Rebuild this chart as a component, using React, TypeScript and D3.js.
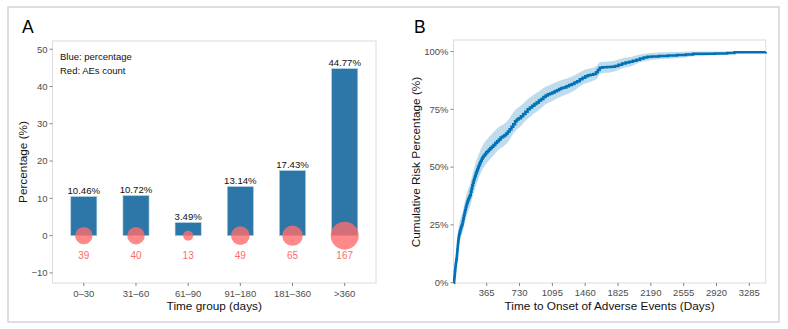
import React from 'react';
import * as d3 from 'd3';

// Panel A: time-group distribution
const groups = ['0–30', '31–60', '61–90', '91–180', '181–360', '>360'];
const percentages = [10.46, 10.72, 3.49, 13.14, 17.43, 44.77];
const aeCounts = [39, 40, 13, 49, 65, 167];
const yTicksA = [-10, 0, 10, 20, 30, 40, 50];

// Panel B: cumulative incidence step curve (days, %)
const days = [0, 3, 6, 9, 12, 15, 18, 21, 24, 27, 30, 33, 36, 39, 42, 45, 48, 51, 54, 57, 60, 66, 72, 78, 84, 90, 97, 104, 111, 118, 125, 132, 139, 146, 153, 160, 167, 174, 180, 188, 196, 204, 212, 220, 228, 236, 244, 252, 260, 268, 276, 284, 292, 300, 310, 320, 330, 345, 360, 375, 390, 405, 420, 440, 460, 480, 500, 520, 540, 560, 580, 600, 620, 640, 660, 680, 700, 720, 745, 770, 795, 820, 845, 870, 895, 920, 945, 970, 995, 1020, 1045, 1070, 1095, 1120, 1145, 1170, 1195, 1220, 1250, 1280, 1310, 1340, 1370, 1400, 1430, 1460, 1490, 1520, 1550, 1580, 1600, 1620, 1650, 1700, 1750, 1790, 1830, 1870, 1910, 1950, 1990, 2030, 2070, 2110, 2150, 2200, 2280, 2380, 2480, 2580, 2660, 2780, 2900, 3040, 3120, 3467];
const cumRisk = [0, 1.5, 2.7, 3.8, 5, 6.2, 7.3, 8.3, 9.1, 9.9, 10.5, 11.8, 13.2, 14.5, 15.8, 17, 18, 19, 19.9, 20.6, 21.2, 22.1, 23, 23.8, 24.5, 25.2, 26.5, 27.8, 29.1, 30.3, 31.5, 32.6, 33.6, 34.6, 35.4, 36.1, 36.8, 37.4, 37.8, 39.3, 40.7, 42, 43.2, 44.3, 45.3, 46.3, 47.2, 48.1, 49, 49.8, 50.6, 51.4, 52.1, 52.8, 53.6, 54.3, 54.9, 55.7, 56.4, 57, 57.6, 58.2, 58.8, 59.6, 60.4, 61.2, 62, 62.8, 63.3, 63.8, 64.5, 65.4, 66.4, 67.5, 68.6, 69.8, 70.6, 71.2, 72, 73, 74, 75, 75.8, 76.6, 77.3, 78, 78.8, 79.5, 80.3, 81, 81.5, 81.9, 82.3, 82.8, 83.3, 83.8, 84.2, 84.5, 85, 85.5, 86, 86.6, 87.2, 88, 88.7, 89.3, 89.7, 90, 90.3, 91, 92, 93, 93.2, 93.3, 93.4, 93.8, 94.3, 94.8, 95.3, 95.6, 96, 96.5, 97, 97.4, 97.7, 97.9, 98.1, 98.3, 98.5, 98.7, 99, 99.1, 99.2, 99.4, 99.7, 99.8];

// 95% confidence band, read at coarser points
const bandDays = [0, 5, 10, 20, 30, 40, 50, 60, 75, 90, 110, 130, 150, 180, 210, 240, 270, 300, 330, 360, 400, 450, 500, 560, 610, 650, 690, 740, 790, 840, 900, 960, 1020, 1080, 1140, 1200, 1270, 1340, 1400, 1460, 1530, 1590, 1620, 1750, 1820, 1900, 1980, 2050, 2120, 2200, 2350, 2500, 2620, 2850, 3100, 3467];
const ciLower = [0, 0.5, 2, 5, 7.5, 11, 14.5, 17, 19.4, 20.8, 24, 27.3, 30, 32.9, 37.3, 41.4, 44.7, 47.6, 49.9, 51.5, 53.4, 55.5, 57.6, 59.2, 61.3, 63.9, 66, 67.6, 69.7, 71.6, 73.4, 75.2, 77.2, 78.3, 79.6, 80.7, 81.8, 83.2, 84.9, 86.2, 87.1, 88.2, 90.4, 91, 91.9, 93.1, 93.8, 95, 95.9, 96.4, 96.9, 97.2, 97.8, 98.3, 99.1, 99.6];
const ciUpper = [0, 4.5, 7.5, 12, 14, 19, 23.5, 25.5, 28, 29.6, 33, 36.7, 39.6, 42.7, 47.3, 51.6, 54.9, 57.8, 60.1, 61.7, 63.4, 65.5, 67.4, 68.8, 70.7, 73.1, 75, 76.4, 78.3, 80, 81.6, 83.2, 84.8, 85.7, 86.8, 87.7, 88.6, 89.8, 91.1, 92.2, 92.9, 93.8, 95.4, 95.8, 96.5, 97.3, 97.8, 98.6, 99.1, 99.4, 99.7, 99.8, 100, 100, 100, 100];

const xTicksB = [365, 730, 1095, 1460, 1825, 2190, 2555, 2920, 3285];
const yTicksB = [0, 25, 50, 75, 100];

const FONT = '"Liberation Sans", Arial, sans-serif';
const TICK_COLOR = '#4d4d4d';
const BAR_COLOR = '#2c77a8';
const RED = '#ff6b6b';
const LINE_COLOR = '#0072b5';

const App = () => {
  // ---- panel A scales
  const a = { left: 52.5, right: 376, top: 41, bottom: 283 };
  const xA = d3.scalePoint<string>().domain(groups).range([a.left, a.right]).padding(0.6);
  const yA = d3.scaleLinear().domain([-12.7, 52.2]).range([a.bottom, a.top]);
  const barW = xA.step() * 0.5;
  const sizeT = d3.scaleLinear().domain([d3.min(aeCounts)!, d3.max(aeCounts)!]).range([0, 1]);
  const radius = (v: number) => 5 + 9 * Math.sqrt(sizeT(v));

  // ---- panel B scales
  const b = { left: 453.5, right: 765.7, top: 40, bottom: 283 };
  const xB = d3.scaleLinear().domain([0, 3467]).range([453.9, b.right]);
  const yB = d3.scaleLinear().domain([0, 105]).range([282.7, b.top]);
  const band = d3.area<number>()
    .x(i => xB(bandDays[i]))
    .y0(i => yB(ciLower[i]))
    .y1(i => yB(ciUpper[i]))
    .curve(d3.curveMonotoneX);
  const line = d3.line<number>()
    .x(i => xB(days[i]))
    .y(i => yB(cumRisk[i]))
    .curve(d3.curveStepAfter);

  const midA = (a.left + a.right) / 2;
  const midB = (b.left + b.right) / 2;
  const midY = (a.top + a.bottom) / 2;

  return (
    <svg width={788} height={329} style={{ position: 'absolute', left: 0, top: 0, fontFamily: FONT }}>
      <rect x={0} y={0} width={788} height={329} fill="#fff" />
      <rect x={8} y={7} width={771} height={315} fill="none" stroke="#d4d4d4" strokeWidth={1.5} />

      {/* ---------- A ---------- */}
      <text x={22} y={33} fontSize={17.5} fill="#000">A</text>
      <rect x={a.left} y={a.top} width={a.right - a.left} height={a.bottom - a.top} fill="#fff" stroke="#dcdcdc" strokeWidth={1} />

      {yTicksA.map(t => (
        <g key={t}>
          <line x1={a.left - 3} x2={a.left} y1={yA(t)} y2={yA(t)} stroke="#333" strokeWidth={0.6} />
          <text x={a.left - 5} y={yA(t)} dy="0.35em" textAnchor="end" fontSize={9.5} fill={TICK_COLOR}>
            {t < 0 ? `−${Math.abs(t)}` : t}
          </text>
        </g>
      ))}
      {groups.map(g => (
        <g key={g}>
          <line x1={xA(g)} x2={xA(g)} y1={a.bottom} y2={a.bottom + 3} stroke="#333" strokeWidth={0.6} />
          <text x={xA(g)} y={a.bottom + 13.5} textAnchor="middle" fontSize={9.5} fill={TICK_COLOR}>{g}</text>
        </g>
      ))}

      {groups.map((g, i) => (
        <rect key={g} x={xA(g)! - barW / 2} y={yA(percentages[i])} width={barW}
          height={yA(0) - yA(percentages[i])} fill={BAR_COLOR} stroke="#a9cbe1" strokeWidth={0.6} />
      ))}
      {groups.map((g, i) => (
        <text key={g} x={xA(g)} y={yA(percentages[i]) - 3} textAnchor="middle" fontSize={9.6} fill="#111">
          {percentages[i].toFixed(2)}%
        </text>
      ))}
      {groups.map((g, i) => (
        <circle key={g} cx={xA(g)} cy={yA(0)} r={radius(aeCounts[i])} fill={RED} fillOpacity={0.8} />
      ))}
      {groups.map((g, i) => (
        <text key={g} x={xA(g)} y={yA(-5.2)} dy="0.35em" textAnchor="middle" fontSize={10} fill={RED}>
          {aeCounts[i]}
        </text>
      ))}

      <text x={60} y={59.5} fontSize={9.5} fill="#111">Blue: percentage</text>
      <text x={60} y={73.5} fontSize={9.5} fill="#111">Red: AEs count</text>

      <text x={midA} y={309.5} textAnchor="middle" fontSize={11.8} fill="#111">Time group (days)</text>
      <text transform={`translate(26.5,${midY}) rotate(-90)`} textAnchor="middle" fontSize={11.8} fill="#111">
        Percentage (%)
      </text>

      {/* ---------- B ---------- */}
      <text x={414} y={33} fontSize={17.5} fill="#000">B</text>
      <rect x={b.left} y={b.top} width={b.right - b.left} height={b.bottom - b.top} fill="#fff" stroke="#dcdcdc" strokeWidth={1} />

      <path d={band(d3.range(bandDays.length))!} fill={LINE_COLOR} fillOpacity={0.25} />
      <path d={line(d3.range(days.length))!} fill="none" stroke={LINE_COLOR} strokeWidth={2.5} />

      {yTicksB.map(t => (
        <g key={t}>
          <line x1={b.left - 3} x2={b.left} y1={yB(t)} y2={yB(t)} stroke="#333" strokeWidth={0.6} />
          <text x={b.left - 5} y={yB(t)} dy="0.35em" textAnchor="end" fontSize={9.5} fill={TICK_COLOR}>{t}%</text>
        </g>
      ))}
      {xTicksB.map(t => (
        <g key={t}>
          <line x1={xB(t)} x2={xB(t)} y1={b.bottom} y2={b.bottom + 3} stroke="#333" strokeWidth={0.6} />
          <text x={xB(t)} y={b.bottom + 12.5} textAnchor="middle" fontSize={9.5} fill={TICK_COLOR}>{t}</text>
        </g>
      ))}

      <text x={midB} y={310} textAnchor="middle" fontSize={11.8} fill="#111">Time to Onset of Adverse Events (Days)</text>
      <text transform={`translate(420,${midY}) rotate(-90)`} textAnchor="middle" fontSize={11.8} fill="#111">
        Cumulative Risk Percentage (%)
      </text>
    </svg>
  );
};

export default App;
